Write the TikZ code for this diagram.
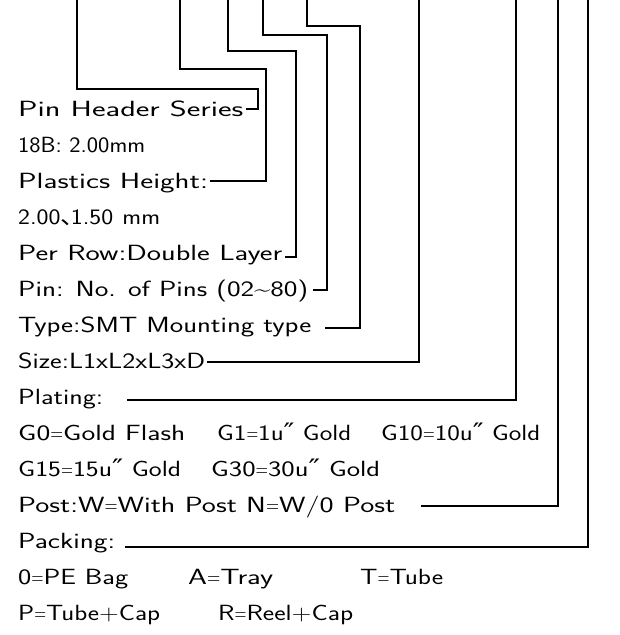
\documentclass[tikz,border=0pt]{standalone}
\usepackage{fontspec}
\usepackage{graphicx}
\newfontfamily\cjk{Noto Sans CJK SC}
\newfontfamily\dv{DejaVu Sans}
\newcommand{\fitw}[2]{\resizebox{#1pt}{\height}{#2}}
\newcommand{\dpr}{{\dv\fontsize{24}{26}\selectfont ″}}
\newcommand{\eqs}{\scalebox{0.6}[1]{=}}
\tikzset{
  lbl/.style={anchor=base west, inner sep=0pt,
    font=\sffamily\fontsize{22}{26}\selectfont\addfontfeature{LetterSpace=7}},
  conn/.style={line width=1.6pt, line join=miter, line cap=butt}
}
\begin{document}
\begin{tikzpicture}[x=1pt,y=-1pt]
\useasboundingbox (0,0) rectangle (619,635);
% text rows
\node[lbl] (t0) at (18,116.5) {\fitw{225}{Pin Header Series}};
\node[lbl] (t1) at (18,152.5) {\fitw{127}{18B: 2.00mm}};
\node[lbl] (t2) at (18,188.5) {\fitw{190}{Plastics Height:}};
\node[lbl] (t3) at (18,224.5) {\fitw{142}{2.00{\cjk\makebox[9pt][l]{、}}1.50\hspace{8pt}mm}};
\node[lbl] (t4) at (18,260.5) {\fitw{264}{Per Row:Double Layer}};
\node[lbl] (t5) at (18,296.5) {\fitw{290}{Pin: No. of Pins (02\symbol{"7E}80)}};
\node[lbl] (t6) at (18,332.5) {\fitw{293}{Type:SMT Mounting type}};
\node[lbl] (t7) at (18,368.5) {\fitw{187}{Size:L1xL2xL3xD}};
\node[lbl] (t8) at (18,404.5) {\fitw{85}{Plating:}};
\node[lbl] (t9a) at (18,440.5) {\fitw{167}{G0\eqs Gold Flash}};
\node[lbl] (t9b) at (217,440.5) {\fitw{134}{G1\eqs 1u\dpr\ Gold}};
\node[lbl] (t9c) at (381,440.5) {\fitw{159}{G10\eqs 10u\dpr\ Gold}};
\node[lbl] (t10a) at (18,476.5) {\fitw{163}{G15\eqs 15u\dpr\ Gold}};
\node[lbl] (t10b) at (211,476.5) {\fitw{169}{G30\eqs 30u\dpr\ Gold}};
\node[lbl] (t11) at (18,512.5) {\fitw{377}{Post:W\eqs With Post N\eqs W/0 Post}};
\node[lbl] (t12) at (18,548.5) {\fitw{97}{Packing:}};
\node[lbl] (t13a) at (18,584.5) {\fitw{110}{0\eqs PE Bag}};
\node[lbl] (t13b) at (188,584.5) {\fitw{85}{A\eqs Tray}};
\node[lbl] (t13c) at (360,584.5) {\fitw{83}{T\eqs Tube}};
\node[lbl] (t14a) at (18,620.5) {\fitw{142}{P\eqs Tube+Cap}};
\node[lbl] (t14b) at (218,620.5) {\fitw{135}{R\eqs Reel+Cap}};
% free ends at top
\coordinate (topA) at (77,0);
\coordinate (topB) at (180,0);
\coordinate (topC) at (228,0);
\coordinate (topD) at (263,0);
\coordinate (topE) at (307,0);
\coordinate (topF) at (419,0);
\coordinate (topG) at (516,0);
\coordinate (topH) at (558,0);
\coordinate (topI) at (588,0);
% ends beside the texts
\coordinate (fA) at (246,109);
\coordinate (fB) at (210,181);
\coordinate (fC) at (285,257);
\coordinate (fD) at (313,290);
\coordinate (fE) at (325,328);
\coordinate (fF) at (207,362);
\coordinate (fG) at (127,400);
\coordinate (fH) at (421,506);
\coordinate (fI) at (125,547);
% connectors
\draw[conn] (topA) |- (258,89) |- (fA);
\draw[conn] (topB) |- (266,69) |- (fB);
\draw[conn] (topC) |- (296,51) |- (fC);
\draw[conn] (topD) |- (327,35) |- (fD);
\draw[conn] (topE) |- (360,26) |- (fE);
\draw[conn] (topF) |- (fF);
\draw[conn] (topG) |- (fG);
\draw[conn] (topH) |- (fH);
\draw[conn] (topI) |- (fI);
\end{tikzpicture}
\end{document}
